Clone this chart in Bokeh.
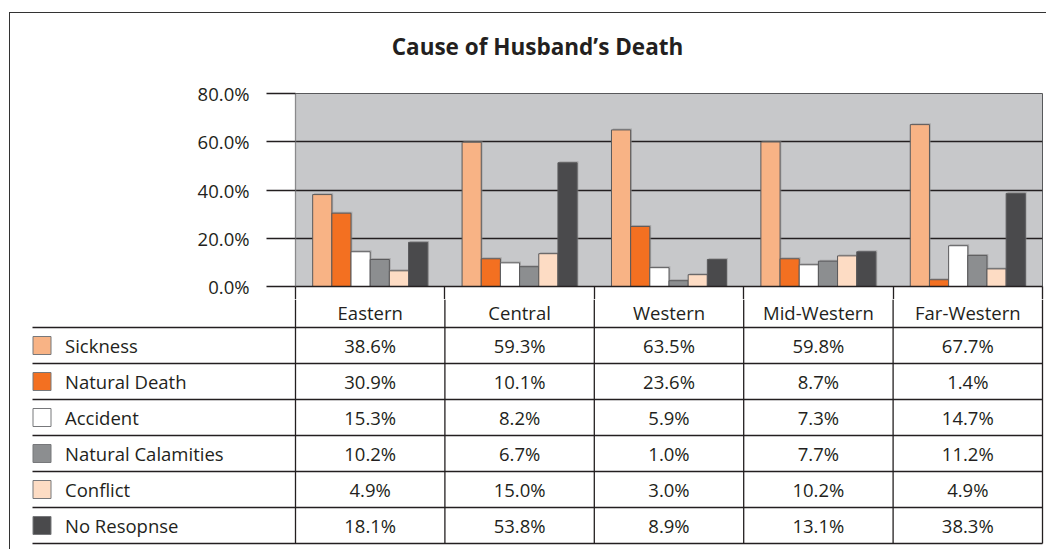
import numpy as np
from bokeh.plotting import figure
from bokeh.layouts import column
from bokeh.models import Range1d, FixedTicker, PrintfTickFormatter, ColumnDataSource
from bokeh.core.properties import value
from bokeh.embed import file_html
from bokeh.resources import INLINE

# ---------------- data ----------------
title_text = "Cause of Husband\u2019s Death"
regions = ["Eastern", "Central", "Western", "Mid-Western", "Far-Western"]
causes = ["Sickness", "Natural Death", "Accident", "Natural Calamities", "Conflict", "No Resopnse"]
colors = ["#f8b385", "#f37021", "#ffffff", "#8c8e90", "#fddcc4", "#4a4a4c"]

# bar heights as drawn in the chart (percent)
sickness_bar = [38.1, 59.8, 64.9, 59.9, 67.1]
natural_death_bar = [30.4, 11.5, 24.9, 11.5, 2.8]
accident_bar = [14.4, 9.8, 7.8, 9.0, 16.9]
calamities_bar = [11.2, 8.2, 2.4, 10.5, 12.9]
conflict_bar = [6.5, 13.6, 4.9, 12.7, 7.3]
no_response_bar = [18.3, 51.3, 11.2, 14.4, 38.6]

# values printed in the data table
sickness_txt = ["38.6%", "59.3%", "63.5%", "59.8%", "67.7%"]
natural_death_txt = ["30.9%", "10.1%", "23.6%", "8.7%", "1.4%"]
accident_txt = ["15.3%", "8.2%", "5.9%", "7.3%", "14.7%"]
calamities_txt = ["10.2%", "6.7%", "1.0%", "7.7%", "11.2%"]
conflict_txt = ["4.9%", "15.0%", "3.0%", "10.2%", "4.9%"]
no_response_txt = ["18.1%", "53.8%", "8.9%", "13.1%", "38.3%"]

y_ticks = [0, 20, 40, 60, 80]

bar_values = [sickness_bar, natural_death_bar, accident_bar, calamities_bar, conflict_bar, no_response_bar]
table_texts = [sickness_txt, natural_death_txt, accident_txt, calamities_txt, conflict_txt, no_response_txt]

# ---------------- style ----------------
FONT = value("Open Sans")
TXT = "#231f20"
FS = "18.5px"
LINE = "#231f20"

n_reg = len(regions)
n_cau = len(causes)

# ---------------- title strip ----------------
p0 = figure(width=1036, height=62, x_range=Range1d(10, 1046), y_range=Range1d(75, 13),
            output_backend="svg", toolbar_location=None, min_border=0,
            x_axis_location=None, y_axis_location=None,
            outline_line_color=None, background_fill_color="white", border_fill_color="white")
p0.frame_align = False
p0.grid.visible = False
p0.text(x=[537], y=[46], text=[title_text], text_font=FONT, text_font_size="22.5px",
        text_font_style="bold", text_color=TXT, text_align="center", text_baseline="middle")

# ---------------- chart ----------------
p1 = figure(width=1036, height=224, x_range=Range1d(0, n_reg), y_range=Range1d(0, 80),
            output_backend="svg", toolbar_location=None,
            min_border_left=285, min_border_right=4, min_border_top=18, min_border_bottom=13,
            background_fill_color="#c7c8ca", border_fill_color="white",
            outline_line_color="#58595b", outline_line_width=1)
p1.frame_align = False

w = 0.77 / n_cau
for k in range(n_cau):
    xs = np.arange(n_reg) + 0.5 + (k - (n_cau - 1) / 2) * w
    src = ColumnDataSource(dict(x=xs, top=bar_values[k]))
    # soft drop shadow to the upper right, as in the original
    p1.vbar(x=xs + 0.009, top=np.array(bar_values[k]) + 0.6, bottom=0, width=w,
            fill_color="#8f8f90", fill_alpha=0.55, line_color=None)
    p1.vbar(x="x", top="top", bottom=0, width=w, source=src,
            fill_color=colors[k], line_color="#59595b", line_width=1)

p1.xgrid.visible = False
p1.ygrid.ticker = FixedTicker(ticks=y_ticks)
p1.ygrid.grid_line_color = LINE
p1.ygrid.grid_line_width = 1.3

p1.yaxis.ticker = FixedTicker(ticks=y_ticks)
p1.yaxis.formatter = PrintfTickFormatter(format="%.1f%%")
p1.yaxis.major_tick_out = 29
p1.yaxis.major_tick_in = 0
p1.yaxis.minor_tick_line_color = None
p1.yaxis.major_tick_line_color = LINE
p1.yaxis.major_tick_line_width = 1.3
p1.yaxis.axis_line_color = "#8a8a8c"
p1.yaxis.axis_line_width = 1.3
p1.yaxis.major_label_standoff = 17
p1.yaxis.major_label_text_font = "Open Sans"
p1.yaxis.major_label_text_font_size = FS
p1.yaxis.major_label_text_color = TXT

xt = list(range(n_reg + 1))
p1.xaxis.ticker = FixedTicker(ticks=xt)
p1.xaxis.major_label_overrides = {t: "" for t in xt}
p1.xaxis.major_tick_out = 13
p1.xaxis.major_tick_in = 0
p1.xaxis.minor_tick_line_color = None
p1.xaxis.major_tick_line_color = LINE
p1.xaxis.major_tick_line_width = 1.3
p1.xaxis.axis_line_color = LINE
p1.xaxis.axis_line_width = 1.3
p1.xaxis.major_label_standoff = 0

# ---------------- data table ----------------
cw = 149.4   # px per region column
rh = 36.0    # px per table row
x0_px = 295.0
top_px = 299.0
p2 = figure(width=1036, height=250,
            x_range=Range1d((10 - x0_px) / cw, (1046 - x0_px) / cw),
            y_range=Range1d(-(top_px + 250 - 327) / rh, (327 - top_px) / rh),
            output_backend="svg", toolbar_location=None, min_border=0,
            x_axis_location=None, y_axis_location=None,
            outline_line_color=None, background_fill_color="white", border_fill_color="white")
p2.frame_align = False
p2.grid.visible = False

bounds = list(range(n_reg + 1))
p2.segment(x0=bounds, y0=[(327 - top_px) / rh] * len(bounds), x1=bounds, y1=[-n_cau] * len(bounds),
           line_color=LINE, line_width=1.3)
row_lines = [-r for r in range(n_cau + 1)]
left_x = (32 - x0_px) / cw
p2.segment(x0=[left_x] * len(row_lines), y0=row_lines, x1=[n_reg] * len(row_lines), y1=row_lines,
           line_color=LINE, line_width=1.3)

p2.text(x=[i + 0.5 for i in range(n_reg)], y=[(327 - 312) / rh] * n_reg, text=regions,
        text_font=FONT, text_font_size=FS, text_color=TXT,
        text_align="center", text_baseline="middle")

row_y = [-(r + 0.5) for r in range(n_cau)]
p2.rect(x=[(41.5 - x0_px) / cw] * n_cau, y=row_y, width=18, height=18,
        width_units="screen", height_units="screen",
        fill_color=colors, line_color="#77787b", line_width=1)
p2.text(x=[(64.5 - x0_px) / cw] * n_cau, y=row_y, text=causes,
        text_font=FONT, text_font_size=FS, text_color=TXT,
        text_align="left", text_baseline="middle")

cx, cy, ct = [], [], []
for r in range(n_cau):
    for i in range(n_reg):
        cx.append(i + 0.5)
        cy.append(-(r + 0.5))
        ct.append(table_texts[r][i])
p2.text(x=cx, y=cy, text=ct, text_font=FONT, text_font_size=FS, text_color=TXT,
        text_align="center", text_baseline="middle")

root = column(p0, p1, p2, spacing=0,
              styles={"border-top": "1px solid #333333", "border-left": "1px solid #333333",
                      "margin-top": "12px", "margin-left": "9px"})

open("out.html", "w").write(file_html(root, INLINE))
